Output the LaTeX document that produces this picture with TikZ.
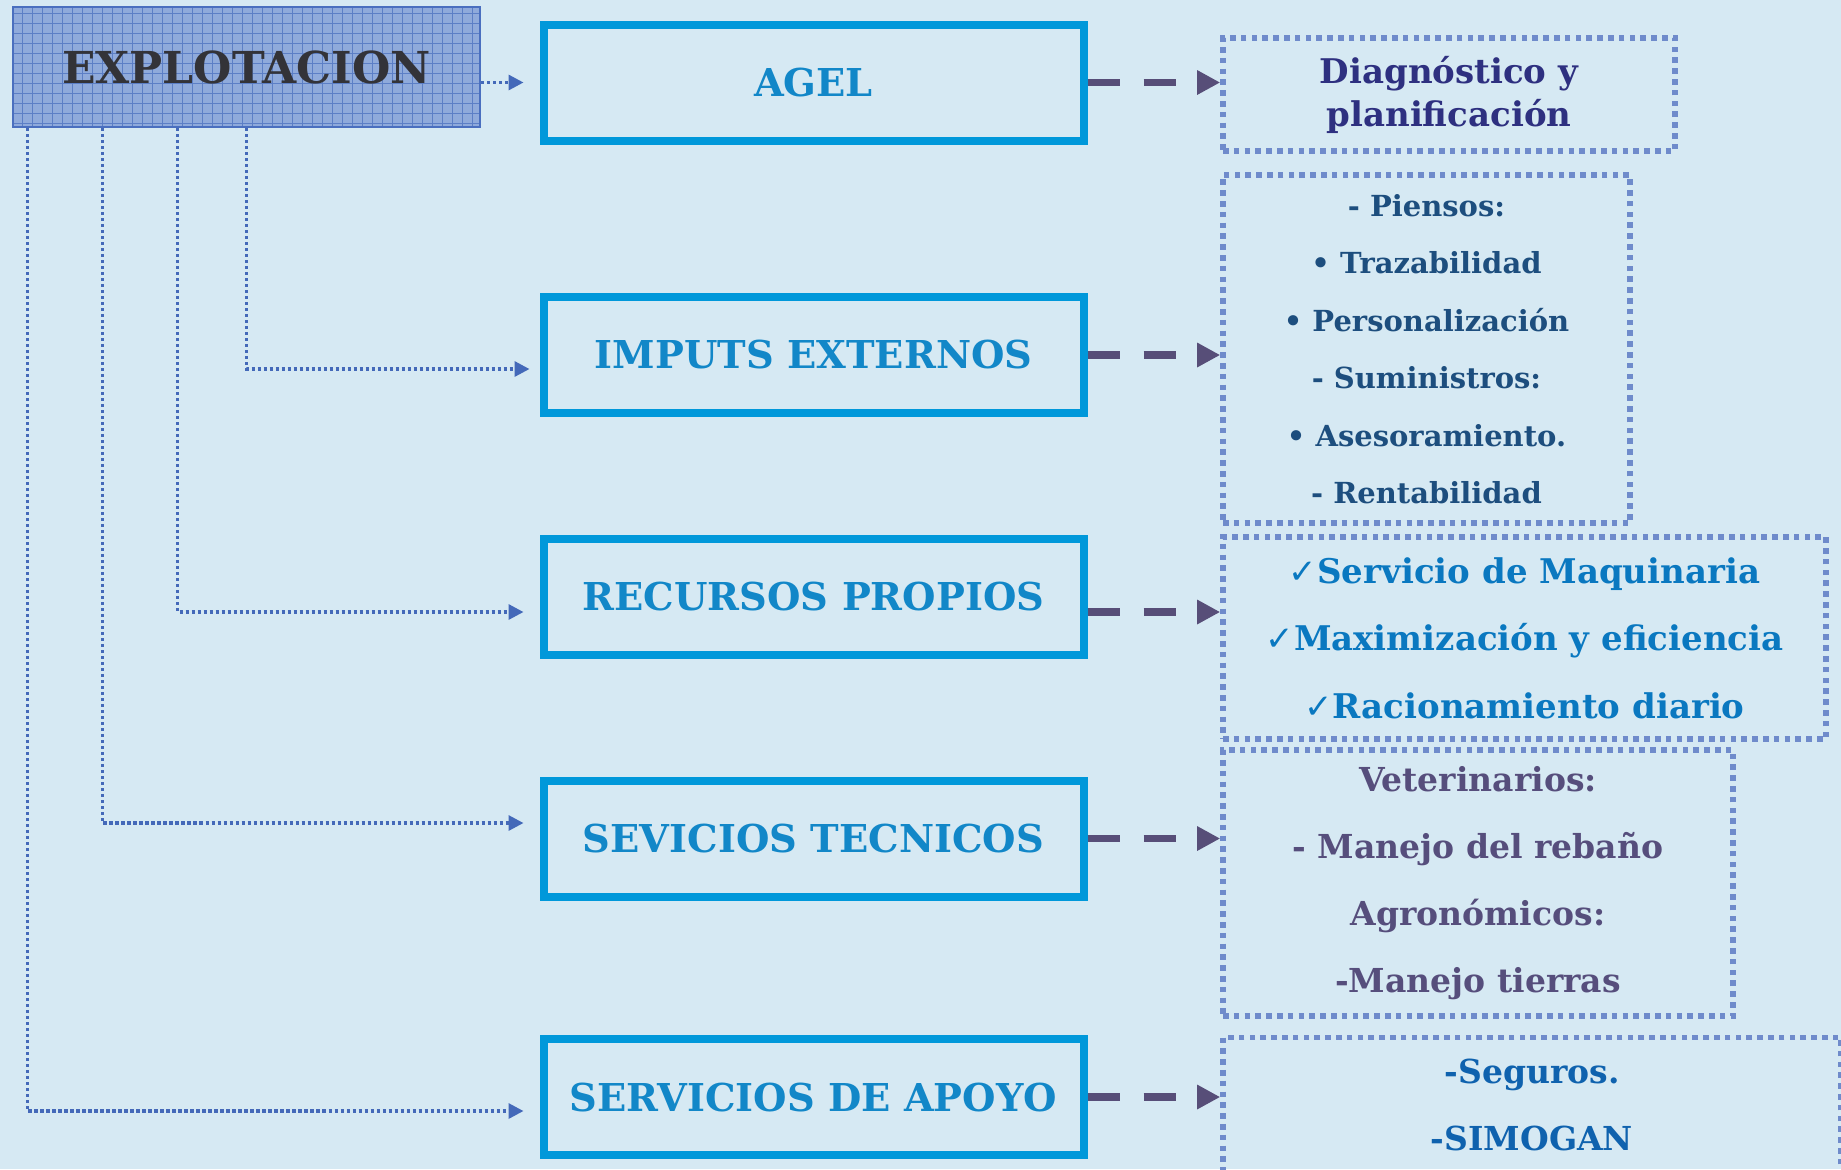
\documentclass[tikz,border=0pt]{standalone}
\usepackage{fontspec}
\setmainfont{DejaVu Serif}
\newfontfamily\checkfont{DejaVu Sans}
\usetikzlibrary{arrows.meta,calc}
\definecolor{colFondo}{HTML}{D6E9F3}
\definecolor{colExplo}{HTML}{8FAADB}
\definecolor{colRejilla}{HTML}{5C7FC6}
\definecolor{colExploBorde}{HTML}{4A6FBF}
\definecolor{colExploTexto}{HTML}{333338}
\definecolor{colBloque}{HTML}{0098DA}
\definecolor{colBloqueTexto}{HTML}{1287C8}
\definecolor{colEnlace}{HTML}{4469B9}
\definecolor{colFlecha}{HTML}{574E78}
\definecolor{colDetalle}{HTML}{6F8BCB}
\definecolor{colDiag}{HTML}{2E3080}
\definecolor{colPiensos}{HTML}{1D4E7E}
\definecolor{colServ}{HTML}{0A78C0}
\definecolor{colVet}{HTML}{564E7C}
\definecolor{colSeg}{HTML}{0F62AE}
\newcommand{\chk}{{\checkfont\mdseries\fontsize{17}{17}\selectfont ✓}}
\begin{document}
\begin{tikzpicture}[x=0.5pt, y=-0.5pt,
                    line join=miter,
                    ]
    \tikzstyle{explo}=[draw=colExploBorde, line width=1pt, fill=colExplo, minimum width=233.5pt, minimum height=60pt, inner sep=0pt,
        text=colExploTexto, font=\bfseries\fontsize{22}{26}\selectfont,
        path picture={\draw[colRejilla, line width=0.5pt] (path picture bounding box.south west) grid[step=5pt] (path picture bounding box.north east);}]
    \tikzstyle{bloque}=[draw=colBloque, line width=4pt, minimum width=270pt, minimum height=58pt, inner sep=0pt,
        text=colBloqueTexto, font=\bfseries\fontsize{19.2}{23}\selectfont]
    \tikzstyle{detalle}=[draw=colDetalle, line width=2.8pt, dash pattern=on 2.8pt off 2.6pt, inner sep=0pt, align=center]
    \tikzstyle{enlace}=[draw=colEnlace, line width=1.6pt, dash pattern=on 1.6pt off 1.4pt, -{Triangle[length=7.5pt,width=7.5pt]}]
    \tikzstyle{flecha}=[draw=colFlecha, line width=3.6pt, dash pattern=on 16pt off 12pt, -{Triangle[length=11.5pt,width=11.5pt]}]

    \path[use as bounding box, fill=colFondo] (0,0) rectangle (1841,1169);
    \clip (0,0) rectangle (1841,1169);

    \node[explo] (expl) at (246.5,67) {EXPLOTACION};

    \node[bloque] (agel)     at (813.5,82.5) {AGEL};
    \node[bloque] (imputs)   at (813.5,355)  {IMPUTS EXTERNOS};
    \node[bloque] (recursos) at (813.5,597)  {RECURSOS PROPIOS};
    \node[bloque] (tecnicos) at (813.5,838.5) {SEVICIOS TECNICOS};
    \node[bloque] (apoyo)    at (813.5,1097) {SERVICIOS DE APOYO};

    \node[detalle, minimum width=226pt, minimum height=56.5pt, text=colDiag,
          font=\bfseries\fontsize{17}{21.5}\selectfont] (diag) at (1449,94.5)
          {Diagnóstico y\\planificación};
    \node[detalle, minimum width=203.5pt, minimum height=174pt, text=colPiensos,
          font=\bfseries\fontsize{14.5}{28.75}\selectfont] (piensos) at (1426.5,349)
          {- Piensos:\\• Trazabilidad\\• Personalización\\- Suministros:\\• Asesoramiento.\\- Rentabilidad};
    \node[detalle, minimum width=301.5pt, minimum height=101pt, text=colServ,
          font=\bfseries\fontsize{17}{33.75}\selectfont] (servicio) at (1524.5,638)
          {\chk Servicio de Maquinaria\\\chk Maximización y eficiencia\\\chk Racionamiento diario};
    \node[detalle, minimum width=255pt, minimum height=133pt, text=colVet,
          font=\bfseries\fontsize{16.5}{33.6}\selectfont] (veter) at (1478,883)
          {Veterinarios:\\- Manejo del rebaño\\Agronómicos:\\-Manejo tierras};
    \node[detalle, minimum width=309pt, minimum height=67.7pt, text=colSeg,
          font=\bfseries\fontsize{16.5}{33.5}\selectfont] (seguros) at (1532,1105)
          {-Seguros.\\-SIMOGAN};

    \draw[enlace] (expl.east |- agel.west) -- ($(agel.west)+(-16,0)$);
    \draw[enlace] (expl.south) |- ($(imputs.west)+(-10,14)$);
    \draw[enlace] ($(expl.south west)+(165.5,0)$) |- ($(recursos.west)+(-16,15)$);
    \draw[enlace] ($(expl.south west)+(90.5,0)$) |- ($(tecnicos.west)+(-16,-15.5)$);
    \draw[enlace] ($(expl.south west)+(15.5,0)$) |- ($(apoyo.west)+(-16,14)$);

    \draw[flecha] (agel.east) -- (agel.east -| diag.west);
    \draw[flecha] (imputs.east) -- (imputs.east -| piensos.west);
    \draw[flecha] ($(recursos.east)+(0,15)$) -- ($(recursos.east -| servicio.west)+(0,15)$);
    \draw[flecha] (tecnicos.east) -- (tecnicos.east -| veter.west);
    \draw[flecha] (apoyo.east) -- (apoyo.east -| seguros.west);
\end{tikzpicture}
\end{document}
